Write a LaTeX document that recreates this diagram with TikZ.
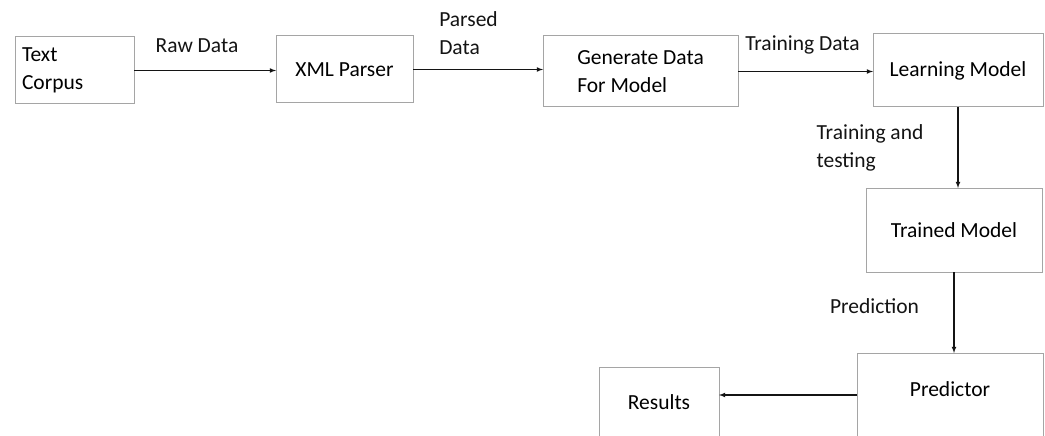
\documentclass[tikz,border=0pt]{standalone}
\usepackage{fontspec}
\setmainfont{Carlito}
\newcommand*{\flowfont}{\fontsize{21.5}{27.5}\selectfont}
\definecolor{boxline}{RGB}{165,165,165}
\definecolor{black}{RGB}{20,20,20}
\usetikzlibrary{arrows}
\usetikzlibrary{positioning}
\tikzstyle{base}=[x=1pt, y=-1pt, inner sep=0pt, outer sep=0pt, font=\flowfont]
\tikzstyle{block}=[draw=boxline, line width=1pt, inner xsep=7pt]
\tikzstyle{flow}=[draw=black, line width=1.1pt, -latex]
\tikzstyle{tag}=[align=left, text=black]

\begin{document}
\begin{tikzpicture}[base]
    \clip (0,0) rectangle (1045,436);
    \fill [white] (0,0) rectangle (1045,436);
    % boxes
    \node [block, minimum width=119pt, minimum height=67pt, text width=105pt, align=left] (corpus) at (74.5,70.5) {Text\\Corpus};
    \node [block, minimum width=137pt, minimum height=67pt] (xml) at (344.5,69.5) {XML Parser};
    \node [block, minimum width=195pt, minimum height=71pt, align=left] (gen) at (640.5,71.5) {Generate Data\\For Model};
    \node [block, minimum width=170pt, minimum height=73pt] (learn) at (958,70.5) {Learning Model};
    \node [block, minimum width=176pt, minimum height=84pt] (trained) at (954,230) {Trained Model};
    \node [block, minimum width=186pt, inner ysep=0pt, text height=43pt, text depth=41pt, anchor=north] (predictor) at (950,353) {Predictor};
    \node [block, minimum width=120pt, inner ysep=0pt, text height=42pt, text depth=31pt, anchor=north] (results) at (659,367) {Results};
    % connectors
    \draw [flow] (corpus.east) -- (corpus.east -| xml.west);
    \draw [flow] (xml.east) -- (xml.east -| gen.west);
    \draw [flow] (gen.east) -- (gen.east -| learn.west);
    \draw [flow] (learn.south) -- (learn.south |- trained.north);
    \draw [flow] (trained.south) -- (trained.south |- predictor.north);
    \draw [flow] (predictor.west) -- (predictor.west -| results.east);
    % labels
    \node [tag] (rawlbl) at (197,46) {Raw Data};
    \node [tag] (parsedlbl) at (468.5,33) {Parsed\\Data};
    \node [tag] (trainlbl) at (802.5,45) {Training Data};
    \node [tag] (testlbl) at (870,148) {Training and\\testing};
    \node [tag] (predlbl) at (874.5,306) {Prediction};
\end{tikzpicture}
\end{document}
